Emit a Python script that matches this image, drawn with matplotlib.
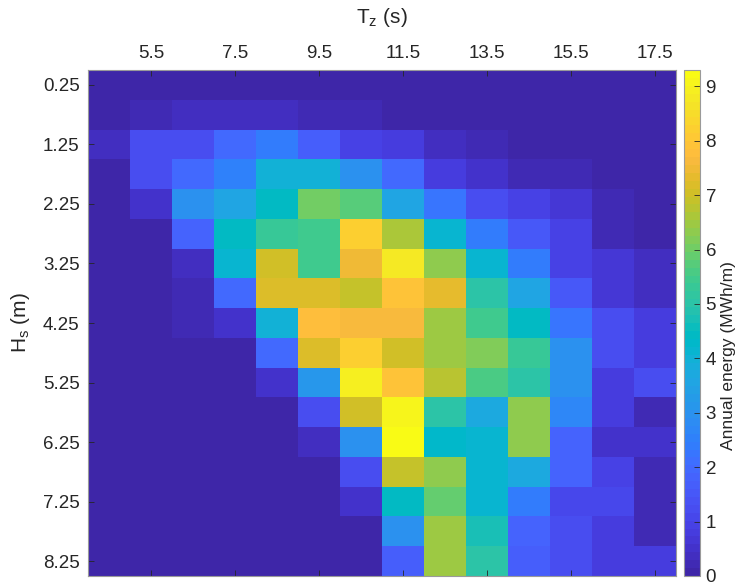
"""
Annual energy matrix (MWh/m) over the Hs-Tz scatter diagram, MATLAB-style
heatmap with parula colormap.
"""
import numpy as np
import matplotlib
matplotlib.use("Agg")
import matplotlib.pyplot as plt
from matplotlib.colors import ListedColormap

plt.rcParams["font.family"] = ["Liberation Sans", "DejaVu Sans"]

# --- data ---
tz = [4.5, 5.5, 6.5, 7.5, 8.5, 9.5, 10.5, 11.5, 12.5, 13.5, 14.5, 15.5, 16.5, 17.5]
hs = [0.25, 0.75, 1.25, 1.75, 2.25, 2.75, 3.25, 3.75, 4.25,
      4.75, 5.25, 5.75, 6.25, 6.75, 7.25, 7.75, 8.25]

energy = [
    [0.1, 0.1, 0.1, 0.1, 0.1, 0.1, 0.1, 0.1, 0.1, 0.1, 0.1, 0.1, 0.1, 0.1],
    [0.1, 0.2, 0.3, 0.3, 0.35, 0.2, 0.15, 0.12, 0.1, 0.1, 0.1, 0.1, 0.1, 0.1],
    [0.3, 1.3, 1.2, 1.9, 2.4, 1.7, 1.0, 0.85, 0.35, 0.2, 0.1, 0.1, 0.1, 0.1],
    [0.1, 1.2, 1.9, 2.5, 4.0, 4.0, 3.0, 1.9, 0.8, 0.5, 0.25, 0.15, 0.1, 0.1],
    [0.1, 0.45, 3.0, 3.6, 4.5, 6.0, 5.7, 3.6, 2.3, 1.2, 1.0, 0.6, 0.2, 0.1],
    [0.1, 0.1, 1.8, 4.4, 5.3, 5.4, 8.2, 6.6, 4.1, 2.4, 1.5, 1.0, 0.2, 0.1],
    [0.1, 0.1, 0.4, 4.2, 7.1, 5.4, 7.45, 8.8, 6.3, 4.2, 2.4, 1.0, 0.7, 0.35],
    [0.1, 0.1, 0.25, 1.9, 7.25, 7.15, 6.95, 7.95, 7.4, 5.0, 3.5, 1.5, 0.7, 0.3],
    [0.1, 0.1, 0.15, 0.55, 4.0, 7.75, 7.7, 7.6, 6.4, 5.4, 4.4, 2.3, 1.2, 0.85],
    [0.1, 0.1, 0.1, 0.1, 1.9, 7.15, 8.25, 7.1, 6.5, 6.2, 5.3, 3.0, 1.3, 0.85],
    [0.1, 0.1, 0.1, 0.1, 0.5, 3.1, 9.0, 7.85, 6.7, 5.6, 5.0, 3.0, 0.75, 1.3],
    [0.1, 0.1, 0.1, 0.1, 0.1, 1.3, 7.1, 9.1, 5.0, 3.7, 6.3, 2.7, 0.85, 0.2],
    [0.1, 0.1, 0.1, 0.1, 0.1, 0.4, 3.0, 9.3, 4.3, 4.1, 6.3, 1.8, 0.55, 0.55],
    [0.1, 0.1, 0.1, 0.1, 0.1, 0.1, 1.3, 6.9, 6.3, 4.1, 3.7, 1.8, 1.0, 0.15],
    [0.1, 0.1, 0.1, 0.1, 0.1, 0.1, 0.45, 4.4, 5.9, 4.1, 2.4, 1.05, 1.15, 0.15],
    [0.1, 0.1, 0.1, 0.1, 0.1, 0.1, 0.1, 3.0, 6.4, 4.7, 1.8, 1.2, 0.85, 0.15],
    [0.1, 0.1, 0.1, 0.1, 0.1, 0.1, 0.1, 1.6, 6.4, 5.0, 1.6, 1.2, 0.85, 0.85],
]

xticks = [5.5, 7.5, 9.5, 11.5, 13.5, 15.5, 17.5]
yticks = [0.25, 1.25, 2.25, 3.25, 4.25, 5.25, 6.25, 7.25, 8.25]
cticks = [0, 1, 2, 3, 4, 5, 6, 7, 8, 9]

# MATLAB R2014b parula(64)
PARULA = [
    [0.2422, 0.1504, 0.6603], [0.2504, 0.1650, 0.7076], [0.2578, 0.1818, 0.7511],
    [0.2647, 0.1978, 0.7952], [0.2706, 0.2147, 0.8364], [0.2751, 0.2342, 0.8710],
    [0.2783, 0.2559, 0.8991], [0.2803, 0.2782, 0.9221], [0.2813, 0.3006, 0.9414],
    [0.2810, 0.3228, 0.9579], [0.2795, 0.3447, 0.9717], [0.2760, 0.3667, 0.9829],
    [0.2699, 0.3892, 0.9906], [0.2602, 0.4123, 0.9952], [0.2440, 0.4358, 0.9988],
    [0.2206, 0.4603, 0.9973], [0.1963, 0.4847, 0.9892], [0.1834, 0.5074, 0.9798],
    [0.1786, 0.5289, 0.9682], [0.1764, 0.5499, 0.9520], [0.1687, 0.5703, 0.9359],
    [0.1540, 0.5902, 0.9218], [0.1460, 0.6091, 0.9079], [0.1380, 0.6276, 0.8973],
    [0.1248, 0.6459, 0.8883], [0.1113, 0.6635, 0.8763], [0.0952, 0.6798, 0.8598],
    [0.0689, 0.6948, 0.8394], [0.0297, 0.7082, 0.8163], [0.0036, 0.7203, 0.7917],
    [0.0067, 0.7312, 0.7660], [0.0433, 0.7411, 0.7394], [0.0964, 0.7500, 0.7120],
    [0.1408, 0.7584, 0.6842], [0.1717, 0.7670, 0.6554], [0.1938, 0.7758, 0.6251],
    [0.2161, 0.7843, 0.5923], [0.2470, 0.7918, 0.5567], [0.2906, 0.7973, 0.5188],
    [0.3406, 0.8008, 0.4789], [0.3909, 0.8029, 0.4354], [0.4456, 0.8024, 0.3909],
    [0.5044, 0.7993, 0.3480], [0.5616, 0.7942, 0.3045], [0.6174, 0.7876, 0.2612],
    [0.6720, 0.7793, 0.2227], [0.7242, 0.7698, 0.1910], [0.7738, 0.7598, 0.1646],
    [0.8203, 0.7498, 0.1535], [0.8634, 0.7406, 0.1596], [0.9035, 0.7330, 0.1774],
    [0.9393, 0.7288, 0.2100], [0.9728, 0.7298, 0.2394], [0.9956, 0.7434, 0.2371],
    [0.9970, 0.7659, 0.2199], [0.9952, 0.7893, 0.2028], [0.9892, 0.8136, 0.1885],
    [0.9786, 0.8386, 0.1766], [0.9676, 0.8639, 0.1643], [0.9610, 0.8890, 0.1537],
    [0.9597, 0.9135, 0.1423], [0.9628, 0.9373, 0.1265], [0.9691, 0.9606, 0.1064],
    [0.9769, 0.9839, 0.0805],
]
parula = ListedColormap(PARULA, name="parula")

E = np.array(energy)
x_edges = np.append(np.array(tz) - 0.5, tz[-1] + 0.5)
y_edges = np.append(np.array(hs) - 0.25, hs[-1] + 0.25)

W, H = 738, 583
fig = plt.figure(figsize=(W / 100, H / 100), dpi=100)
ax = fig.add_axes([88 / W, 1 - 576 / H, 588 / W, 506 / H])
cax = fig.add_axes([684 / W, 1 - 576 / H, 16 / W, 506 / H])

mesh = ax.pcolormesh(x_edges, y_edges, E, cmap=parula, vmin=0, vmax=E.max(),
                     shading="flat")
ax.set_xlim(x_edges[0], x_edges[-1])
ax.set_ylim(y_edges[-1], y_edges[0])

txt = "#262626"
ax.xaxis.tick_top()
ax.xaxis.set_label_position("top")
ax.set_xticks(xticks)
ax.set_xticklabels([f"{v:g}" for v in xticks])
ax.set_yticks(yticks)
ax.set_yticklabels([f"{v:g}" for v in yticks])
ax.tick_params(direction="in", length=4, width=0.6, color=txt, labelcolor=txt,
               labelsize=13.5, top=True, bottom=True, left=True, right=True, pad=6)
ax.set_xlabel("T$_\\mathregular{z}$ (s)", fontsize=15, color=txt)
ax.xaxis.set_label_coords(0.5, 1.0 + 47 / 506)
ax.set_ylabel("H$_\\mathregular{s}$ (m)", fontsize=15, color=txt)
ax.yaxis.set_label_coords(-56 / 588, 0.5)
for sp in ax.spines.values():
    sp.set_color("#9a9a9a")
    sp.set_linewidth(0.8)

cb = fig.colorbar(mesh, cax=cax, ticks=cticks)
cb.outline.set_edgecolor("#9a9a9a")
cb.outline.set_linewidth(0.8)
cax.tick_params(direction="in", length=4, width=0.6, color=txt, labelcolor=txt,
                labelsize=13.5, pad=4)
cb.set_label("Annual energy (MWh/m)", fontsize=12.5, color=txt)
cax.yaxis.set_label_coords(2.3, (576 - 356) / 506)

fig.savefig("out.png", dpi=100)
